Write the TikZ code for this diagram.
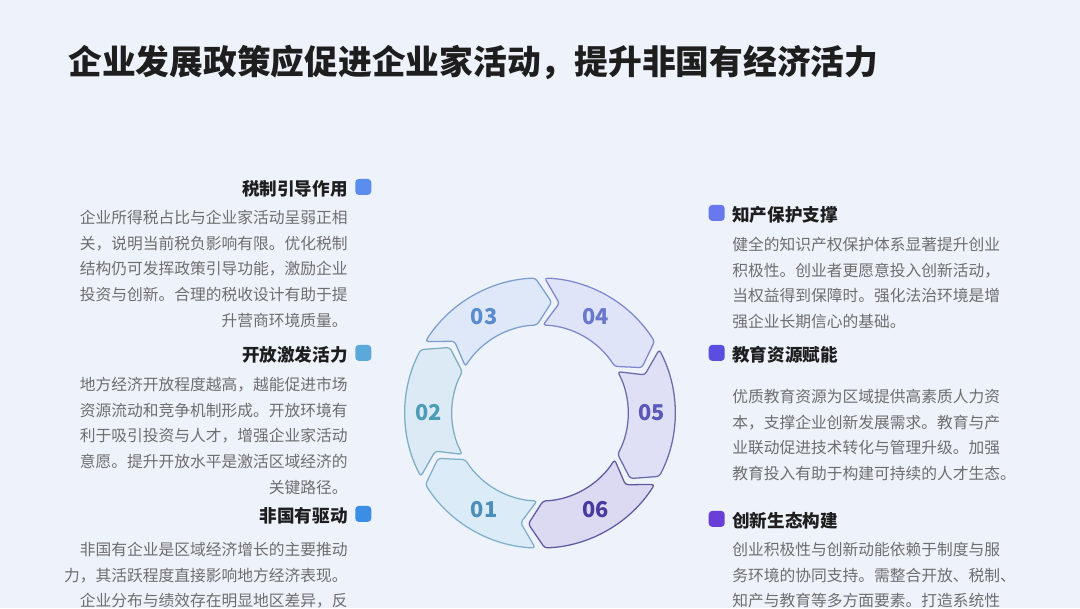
\documentclass[tikz,border=0pt]{standalone}
\usepackage{fontspec}
\setmainfont{Noto Sans CJK SC}
\usetikzlibrary{positioning}

\definecolor{bg}{HTML}{EDF2FB}
\definecolor{headc}{HTML}{1E1E1E}
\definecolor{bodyc}{HTML}{6E6E6E}
% markers
\definecolor{qA}{HTML}{5B8DEF}
\definecolor{qB}{HTML}{5AA9DA}
\definecolor{qC}{HTML}{3A8EE6}
\definecolor{qD}{HTML}{6A78EE}
\definecolor{qE}{HTML}{5A4DE0}
\definecolor{qF}{HTML}{6A3FD8}
% ring segments: fill, border, text
\definecolor{fA}{HTML}{DBEBF8}\definecolor{dA}{HTML}{7FAFCB}\definecolor{tA}{HTML}{4B8FB8}
\definecolor{fB}{HTML}{DCEAF6}\definecolor{dB}{HTML}{7AAEC0}\definecolor{tB}{HTML}{4A9DB5}
\definecolor{fC}{HTML}{DEE8F8}\definecolor{dC}{HTML}{7C9FCF}\definecolor{tC}{HTML}{5A8AD0}
\definecolor{fD}{HTML}{E0E4F8}\definecolor{dD}{HTML}{7E88CC}\definecolor{tD}{HTML}{6878CC}
\definecolor{fE}{HTML}{DFDFF5}\definecolor{dE}{HTML}{6B6AAA}\definecolor{tE}{HTML}{5A58B8}
\definecolor{fF}{HTML}{DCD9F2}\definecolor{dF}{HTML}{605AA0}\definecolor{tF}{HTML}{4A3A9E}

\begin{document}
\begin{tikzpicture}[
    x=0.025cm, y=0.025cm,
    title/.style={font=\fontsize{24}{28}\selectfont\bfseries, text=headc, inner sep=0},
    head/.style={font=\fontsize{12.5}{15}\selectfont\bfseries, text=headc, inner sep=0},
    body/.style={font=\fontsize{11.2}{18.2}\selectfont, text=bodyc, inner sep=0},
    tagsq/.style={rounded corners=2.5pt, minimum size=0.4cm, inner sep=0},
    seg/.style={rounded corners=2pt, line width=0.9pt},
    num/.style={font=\fontsize{15.5}{15.5}\selectfont\bfseries}
  ]
    \fill[bg] (0,0) rectangle (1080,608);
    \useasboundingbox (0,0) rectangle (1080,608);

    \node[title,anchor=west] (ttl) at (68,546) {企业发展政策应促进企业家活动，提升非国有经济活力};

    % left column
    \node[head,anchor=east] (tax) at (348,419) {税制引导作用};
    \node[tagsq,fill=qA,right=0.175cm of tax,yshift=1.5] (taxsq) {};
    \node[body,anchor=north east,align=right] (taxtxt) at (348,398) {企业所得税占比与企业家活动呈弱正相\\关，说明当前税负影响有限。优化税制\\结构仍可发挥政策引导功能，激励企业\\投资与创新。合理的税收设计有助于提\\升营商环境质量。};

    \node[head,anchor=east] (open) at (348,253) {开放激发活力};
    \node[tagsq,fill=qB,right=0.175cm of open,yshift=1.5] (opensq) {};
    \node[body,anchor=north east,align=right] (opentxt) at (348,231) {地方经济开放程度越高，越能促进市场\\资源流动和竞争机制形成。开放环境有\\利于吸引投资与人才，增强企业家活动\\意愿。提升开放水平是激活区域经济的\\关键路径。};

    \node[head,anchor=east] (priv) at (348,92) {非国有驱动};
    \node[tagsq,fill=qC,right=0.175cm of priv,yshift=1.5] (privsq) {};
    \node[body,anchor=north east,align=right] (privtxt) at (348,66) {非国有企业是区域经济增长的主要推动\\力，其活跃程度直接影响地方经济表现。\\企业分布与绩效存在明显地区差异，反};

    % right column
    \node[head,anchor=west] (ip) at (732,393) {知产保护支撑};
    \node[tagsq,fill=qD,left=0.175cm of ip,yshift=1.5] (ipsq) {};
    \node[body,anchor=north west,align=left] (iptxt) at (732,371) {健全的知识产权保护体系显著提升创业\\积极性。创业者更愿意投入创新活动，\\当权益得到保障时。强化法治环境是增\\强企业长期信心的基础。};

    \node[head,anchor=west] (edu) at (732,253) {教育资源赋能};
    \node[tagsq,fill=qE,left=0.175cm of edu,yshift=1.5] (edusq) {};
    \node[body,anchor=north west,align=left] (edutxt) at (732,219) {优质教育资源为区域提供高素质人力资\\本，支撑企业创新发展需求。教育与产\\业联动促进技术转化与管理升级。加强\\教育投入有助于构建可持续的人才生态。};

    \node[head,anchor=west] (eco) at (732,87) {创新生态构建};
    \node[tagsq,fill=qF,left=0.175cm of eco,yshift=1.5] (ecosq) {};
    \node[body,anchor=north west,align=left] (ecotxt) at (732,66) {创业积极性与创新动能依赖于制度与服\\务环境的协同支持。需整合开放、税制、\\知产与教育等多方面要素。打造系统性};

    % ring of arrows
    \begin{scope}[shift={(540,195)}]
      \foreach \n/\a/\col in {01/240/A, 02/180/B, 03/120/C, 04/60/D, 05/0/E, 06/-60/F}{
        \draw[seg,fill=f\col,draw=d\col] ({\a+28}:135) arc[start angle=\a+28, end angle=\a-28, radius=135]
          -- ({\a-36}:111.5) -- ({\a-28}:88) arc[start angle=\a-28, end angle=\a+28, radius=88]
          -- ({\a+20}:111.5) -- cycle;
        \node[num,text=t\col] (s\n) at (\a:111.5) {\n};
      }
    \end{scope}
\end{tikzpicture}
\end{document}
